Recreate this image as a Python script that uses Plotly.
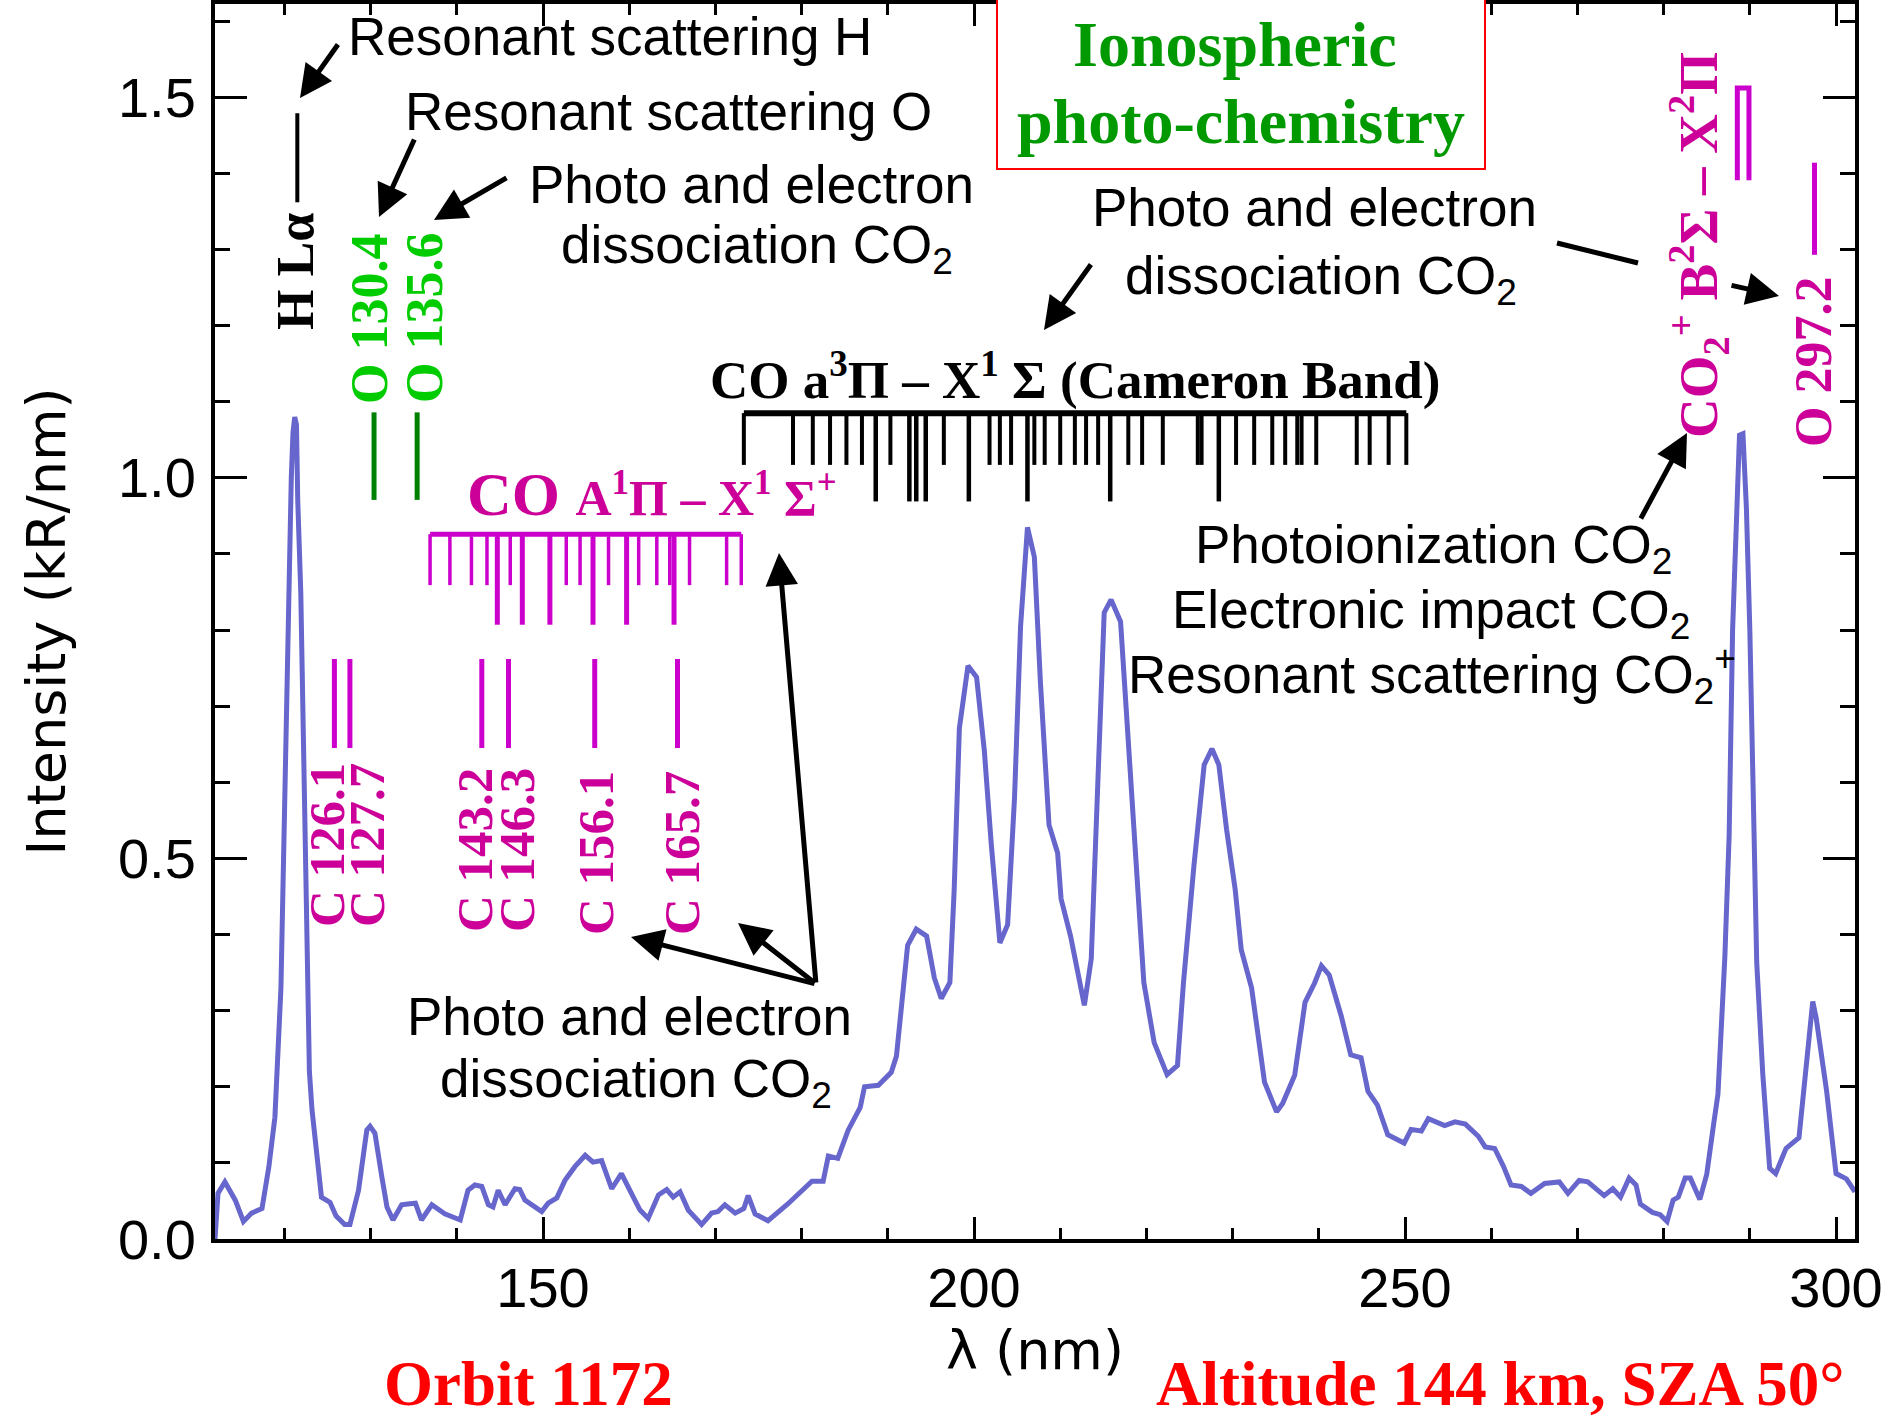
import plotly.graph_objects as go

# ---------------- spectrum ----------------
wavelength_nm = [
    111.95, 112.3, 113.1, 114.3, 115.25, 116.2, 117.4, 118.2, 118.9, 119.2, 119.6, 119.85,
    120.1, 120.3, 120.5, 120.8, 121.0, 121.2, 121.4, 121.55, 121.9, 122.2, 122.35, 122.6,
    122.9, 123.2, 123.95, 124.3, 125.3, 126.0, 127.0, 127.6, 128.6, 129.56, 129.94, 130.5,
    131.3, 131.9, 132.6, 133.6, 134.3, 135.2, 135.9, 137.1, 138.6, 140.4, 141.3, 142.1,
    142.9, 143.66, 144.2, 144.8, 145.6, 146.75, 147.3, 147.9, 149.85, 150.6, 151.6, 152.55,
    153.7, 154.9, 155.8, 156.8, 157.97, 159.1, 160.3, 161.25, 162.2, 163.4, 164.35, 165.1,
    165.9, 166.85, 168.4, 169.56, 170.3, 171.1, 172.3, 173.3, 173.8, 174.6, 176.1, 178.4,
    181.2, 182.5, 183.1, 184.2, 185.4, 186.8, 187.3, 188.9, 190.4, 191.0, 191.6, 192.3,
    193.3, 194.5, 195.4, 196.2, 197.2, 197.7, 198.3, 199.3, 200.3, 201.2, 202.0, 203.0,
    203.9, 204.7, 205.4, 206.2, 207.0, 207.7, 208.7, 209.7, 210.1, 211.2, 212.8, 213.6,
    214.3, 215.1, 215.9, 217.0, 217.8, 218.6, 219.7, 220.9, 222.4, 223.6, 224.3, 225.5,
    226.7, 227.6, 228.4, 229.3, 230.3, 231.0, 232.2, 233.7, 235.1, 235.8, 237.2, 238.4,
    239.5, 240.3, 241.2, 242.6, 243.7, 244.9, 245.7, 246.8, 248.0, 249.9, 250.7, 251.9,
    252.7, 254.6, 255.8, 257.0, 258.5, 259.3, 260.4, 261.4, 262.3, 263.5, 264.6, 266.2,
    267.9, 268.9, 270.2, 271.2, 273.1, 274.1, 275.0, 276.0, 276.8, 277.3, 278.7, 279.6,
    280.4, 281.1, 281.7, 282.5, 283.1, 284.2, 285.0, 285.8, 286.3, 287.1, 287.6, 288.0,
    288.4, 288.8, 289.2, 289.6, 290.0, 290.4, 290.8, 291.5, 292.3, 293.0, 294.2, 295.7,
    296.5, 297.3, 297.7, 298.9, 300.0, 301.2, 302.2,
]
intensity_kR_nm = [
    0.0, 0.06, 0.075, 0.051, 0.023, 0.034, 0.040, 0.095, 0.16, 0.24, 0.33, 0.47,
    0.63, 0.75, 0.87, 1.0, 1.06, 1.08, 1.07, 0.97, 0.85, 0.66, 0.51, 0.33,
    0.22, 0.17, 0.082, 0.055, 0.048, 0.03, 0.019, 0.019, 0.064, 0.143, 0.148, 0.139,
    0.082, 0.042, 0.025, 0.045, 0.046, 0.047, 0.025, 0.045, 0.033, 0.025, 0.064, 0.071,
    0.069, 0.045, 0.042, 0.064, 0.045, 0.066, 0.065, 0.051, 0.036, 0.047, 0.054, 0.077,
    0.095, 0.110, 0.101, 0.103, 0.066, 0.086, 0.059, 0.038, 0.027, 0.058, 0.065, 0.055,
    0.062, 0.038, 0.019, 0.034, 0.036, 0.045, 0.034, 0.040, 0.057, 0.033, 0.024, 0.046,
    0.076, 0.076, 0.109, 0.106, 0.143, 0.173, 0.200, 0.202, 0.219, 0.240, 0.307, 0.386,
    0.407, 0.398, 0.343, 0.316, 0.337, 0.459, 0.671, 0.753, 0.738, 0.641, 0.519, 0.389,
    0.413, 0.580, 0.805, 0.935, 0.896, 0.732, 0.544, 0.507, 0.447, 0.398, 0.307, 0.368,
    0.580, 0.823, 0.840, 0.811, 0.671, 0.519, 0.337, 0.258, 0.216, 0.228, 0.337, 0.489,
    0.623, 0.644, 0.623, 0.538, 0.459, 0.380, 0.330, 0.206, 0.167, 0.178, 0.215, 0.311,
    0.336, 0.359, 0.347, 0.293, 0.242, 0.238, 0.194, 0.176, 0.137, 0.126, 0.144, 0.142,
    0.158, 0.149, 0.154, 0.151, 0.135, 0.121, 0.119, 0.096, 0.071, 0.069, 0.060, 0.073,
    0.075, 0.060, 0.077, 0.075, 0.057, 0.066, 0.055, 0.080, 0.071, 0.046, 0.035, 0.032,
    0.023, 0.051, 0.055, 0.080, 0.080, 0.052, 0.085, 0.151, 0.19, 0.37, 0.53, 0.80,
    0.95, 1.056, 1.058, 0.961, 0.80, 0.545, 0.363, 0.217, 0.093, 0.086, 0.119, 0.133,
    0.217, 0.312, 0.290, 0.195, 0.086, 0.079, 0.062,
]

# ---------------- emission-line markers (nm) and their extents (kR/nm) ----------------
h_lya_nm = [121.5]
h_lya_span = (1.362, 1.479)
o_lines_nm = [130.4, 135.4]
o_lines_span = (0.971, 1.086)
c_lines_nm = [125.8, 127.6, 142.9, 146.0, 156.0, 165.6]
c_lines_span = (0.645, 0.762)
co2p_lines_nm = [288.55, 289.9]
co2p_span = (1.391, 1.512)
o2972_nm = [297.5]
o2972_span = (1.293, 1.414)

co4p_short_nm = [136.9, 139.2, 141.7, 143.5, 146.2, 152.7, 154.3, 157.6, 161.1, 163.2,
                 164.7, 167.0, 171.3, 173.0]
co4p_long_nm = [144.7, 147.6, 150.8, 155.8, 159.7, 165.2]
co4p_levels = (0.926, 0.859, 0.807)   # bar, short end, long end

cam_short_nm = [173.3, 179.0, 181.3, 183.3, 185.2, 187.0, 190.3, 196.5, 201.8, 203.0,
                204.3, 207.0, 208.2, 210.0, 211.7, 213.0, 214.4, 217.9, 219.5, 221.9,
                225.96, 226.4, 230.4, 232.5, 234.6, 236.1, 237.5, 238.0, 239.7, 244.4,
                245.9, 248.1, 250.15]
cam_long_nm = [188.6, 192.5, 193.3, 194.4, 199.4, 206.2, 215.8, 228.4]
cam_levels = (1.085, 1.017, 0.969)    # bar, short end, long end

x_ticks = [150, 200, 250, 300]
y_ticks = [0.0, 0.5, 1.0, 1.5]

BLUE = "#6666CC"
MAG_LINE = "#CC00CC"
MAG_TEXT = "#CC0099"
GREEN_LINE = "#008000"
GREEN_TEXT = "#00CC00"


def vsegs(xs, y0, y1):
    X, Y = [], []
    for x in xs:
        X += [x, x, None]
        Y += [y0, y1, None]
    return X, Y


def line_trace(X, Y, color, width):
    return go.Scatter(x=X, y=Y, mode="lines", line=dict(color=color, width=width),
                      hoverinfo="skip", showlegend=False)


fig = go.Figure()

# spectrum
fig.add_trace(go.Scatter(x=wavelength_nm, y=intensity_kR_nm, mode="lines",
                         line=dict(color=BLUE, width=5),
                         name="spectrum", showlegend=False))

# single line markers
fig.add_trace(line_trace(*vsegs(h_lya_nm, *h_lya_span), "black", 4))
fig.add_trace(line_trace(*vsegs(o_lines_nm, *o_lines_span), GREEN_LINE, 5))
fig.add_trace(line_trace(*vsegs(c_lines_nm, *c_lines_span), MAG_LINE, 5))
fig.add_trace(line_trace(*vsegs(o2972_nm, *o2972_span), MAG_LINE, 5))
fig.add_trace(line_trace(
    [co2p_lines_nm[0], co2p_lines_nm[0], co2p_lines_nm[1], co2p_lines_nm[1]],
    [co2p_span[0], co2p_span[1], co2p_span[1], co2p_span[0]], MAG_LINE, 5))

# CO A-X (fourth positive) comb
allco = co4p_short_nm + co4p_long_nm
fig.add_trace(line_trace([min(allco), max(allco)], [co4p_levels[0]] * 2, MAG_LINE, 5))
fig.add_trace(line_trace(*vsegs(co4p_short_nm, co4p_levels[0], co4p_levels[1]), MAG_LINE, 3.5))
fig.add_trace(line_trace(*vsegs(co4p_long_nm, co4p_levels[0], co4p_levels[2]), MAG_LINE, 5))

# Cameron band comb
allcam = cam_short_nm + cam_long_nm
fig.add_trace(line_trace([min(allcam), max(allcam)], [cam_levels[0]] * 2, "black", 6))
fig.add_trace(line_trace(*vsegs(cam_short_nm, cam_levels[0], cam_levels[1]), "black", 4))
fig.add_trace(line_trace(*vsegs(cam_long_nm, cam_levels[0], cam_levels[2]), "black", 4.5))

# ---------------- layout helpers (pixel -> paper) ----------------
L, R, T, B = 215, 1855, 4, 1239


def PX(px):
    return (px - L) / (R - L)


def PY(py):
    return (B - py) / (B - T)


anns = []


def text(s, px, py, size, color="black", family="Liberation Sans", angle=0, bold=False):
    anns.append(dict(text=("<b>%s</b>" % s) if bold else s, x=PX(px), y=PY(py),
                     xref="paper", yref="paper", showarrow=False, textangle=angle,
                     xanchor="center", yanchor="middle",
                     font=dict(family=family, size=size, color=color)))


def arrow(tail, tip):
    anns.append(dict(text="", x=PX(tip[0]), y=PY(tip[1]), xref="paper", yref="paper",
                     ax=tail[0] - tip[0], ay=tail[1] - tip[1], showarrow=True,
                     arrowhead=2, arrowwidth=5, arrowsize=1.3, arrowcolor="black",
                     standoff=0, startstandoff=0))


SERIF = "Liberation Serif"
FS = 53

# black sans annotations
text("Resonant scattering H", 610, 37, FS)
text("Resonant scattering O", 668, 111, FS)
text("Photo and electron", 751, 184, FS)
text("dissociation CO<sub>2</sub>", 757, 248, FS)
text("Photo and electron", 1314, 207, FS)
text("dissociation CO<sub>2</sub>", 1321, 279, FS)
text("Photo and electron", 629, 1016, FS)
text("dissociation CO<sub>2</sub>", 636, 1082, FS)
text("Photoionization CO<sub>2</sub>", 1433, 549, FS)
text("Electronic impact CO<sub>2</sub>", 1431, 613, FS)
text("Resonant scattering CO<sub>2</sub><sup>+</sup>", 1432, 674, FS)

# rotated line labels
text("H Lα", 295, 272, 52, "black", SERIF, -90, True)
text("O 130.4", 370, 319, 52, GREEN_TEXT, SERIF, -90, True)
text("O 135.6", 424, 318, 52, GREEN_TEXT, SERIF, -90, True)
for lab, px, py in [("C 126.1", 327, 845), ("C 127.7", 367, 845), ("C 143.2", 475, 850),
                    ("C 146.3", 517, 850), ("C 156.1", 596, 853), ("C 165.7", 682, 853)]:
    text(lab, px, py, 51, MAG_TEXT, SERIF, -90, True)
text("O 297.2", 1813, 362, 52, MAG_TEXT, SERIF, -90, True)
text("CO<sub>2</sub><sup>+</sup> B<sup>2</sup>Σ – X<sup>2</sup>Π", 1698, 245, 55, MAG_TEXT,
     SERIF, -90, True)

# band labels
text("CO <span style='font-size:50px'>A<sup>1</sup>Π – X<sup>1</sup> Σ<sup>+</sup></span>",
     652, 494, 62, MAG_TEXT, SERIF, 0, True)
text("CO a<sup>3</sup>Π – X<sup>1</sup> Σ (Cameron Band)", 1075, 376, 53, "black", SERIF, 0, True)

# boxed title
text("Ionospheric", 1235, 45, 64, "#009900", SERIF, 0, True)
text("photo-chemistry", 1241, 122, 64, "#009900", SERIF, 0, True)

# bottom red notes
text("Orbit 1172", 528, 1384, 63, "#FF0000", SERIF, 0, True)
text("Altitude 144 km, SZA 50°", 1500, 1384, 63, "#FF0000", SERIF, 0, True)

# arrows
arrow((339, 43), (300, 98))
arrow((415, 138), (379, 217))
arrow((508, 177), (434, 220))
arrow((1092, 263), (1044, 330))
arrow((1730, 285), (1779, 296))
arrow((1640, 520), (1687, 433))
arrow((816, 984), (631, 937))
arrow((816, 984), (738, 923))
arrow((816, 984), (779, 553))

shapes = [
    dict(type="rect", xref="paper", yref="paper", x0=PX(997), x1=PX(1485), y0=PY(169),
         y1=PY(-10), line=dict(color="#FF0000", width=2), fillcolor="white", layer="above"),
    dict(type="line", xref="paper", yref="paper", x0=PX(1557), y0=PY(243), x1=PX(1638),
         y1=PY(263), line=dict(color="black", width=5), layer="above"),
]

axis_common = dict(showline=True, linewidth=4, linecolor="black", mirror="ticks",
                   ticks="inside", tickwidth=3, tickcolor="black", showgrid=False,
                   zeroline=False, automargin=False,
                   tickfont=dict(family="Liberation Sans", size=56, color="black"))

fig.update_layout(
    width=1892, height=1420,
    margin=dict(l=L, r=1892 - R, t=T, b=1420 - B, autoexpand=False),
    plot_bgcolor="white", paper_bgcolor="white", showlegend=False,
    xaxis=dict(range=[111.95, 302.2], tickvals=x_ticks, ticklen=22,
               minor=dict(dtick=10, tick0=0, ticks="inside", ticklen=11, tickwidth=3,
                          tickcolor="black", showgrid=False),
               ticklabelstandoff=-3,
               title=dict(text="λ (nm)", font=dict(family="DejaVu Sans", size=54,
                                                   color="black"), standoff=4),
               **axis_common),
    yaxis=dict(range=[0, 1.6225], tickvals=y_ticks, tickformat=".1f", ticklen=32,
               minor=dict(dtick=0.1, tick0=0, ticks="inside", ticklen=15, tickwidth=3,
                          tickcolor="black", showgrid=False),
               ticklabelstandoff=4,
               title=dict(text="Intensity (kR/nm)",
                          font=dict(family="DejaVu Sans", size=54, color="black"),
                          standoff=36),
               **axis_common),
    annotations=anns,
    shapes=shapes,
)

fig.write_html("out.html", config={"displayModeBar": False},
               post_script="document.body.style.margin='0';")
